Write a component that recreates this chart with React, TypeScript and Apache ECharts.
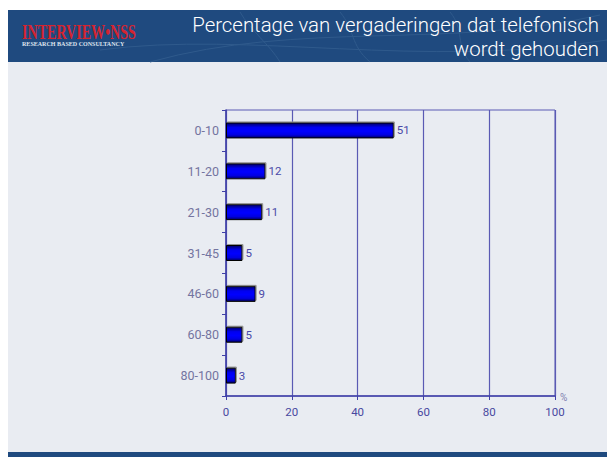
import React, { useEffect, useRef } from "react";
import * as echarts from "echarts";

const categories = ["0-10", "11-20", "21-30", "31-45", "46-60", "60-80", "80-100"];
const values = [51, 12, 11, 5, 9, 5, 3];
const titleLines = ["Percentage van vergaderingen dat telefonisch", "wordt gehouden"];
const xTicks = { min: 0, max: 100, interval: 20 };
const unitLabel = "%";

export default function App() {
  const ref = useRef<HTMLDivElement>(null);
  useEffect(() => {
    if (!ref.current) return;
    const chart = echarts.init(ref.current, null, { renderer: "svg" });
    const navy = "#1f4a7f";
    const lineCol = "#5a5ab4";
    const deco = { stroke: "#2f5a8c", lineWidth: 1, fill: null as any };
    chart.setOption({
      animation: false,
      backgroundColor: "#ffffff",
      graphic: [
        { type: "rect", z: -10, shape: { x: 8, y: 10, width: 599, height: 52 }, style: { fill: navy } },
        { type: "bezierCurve", z: -9, shape: { x1: 150, y1: 62, x2: 600, y2: 15, cpx1: 300, cpy1: 20, cpx2: 450, cpy2: 50 }, style: deco },
        { type: "bezierCurve", z: -9, shape: { x1: 100, y1: 50, x2: 607, y2: 40, cpx1: 250, cpy1: 30, cpx2: 420, cpy2: 70 }, style: deco },
        { type: "bezierCurve", z: -9, shape: { x1: 240, y1: 12, x2: 280, y2: 62, cpx1: 250, cpy1: 30, cpx2: 270, cpy2: 45 }, style: deco },
        { type: "bezierCurve", z: -9, shape: { x1: 340, y1: 12, x2: 370, y2: 62, cpx1: 355, cpy1: 30, cpx2: 350, cpy2: 45 }, style: deco },
        { type: "bezierCurve", z: -9, shape: { x1: 450, y1: 12, x2: 470, y2: 62, cpx1: 465, cpy1: 30, cpx2: 455, cpy2: 45 }, style: deco },
        { type: "rect", z: -10, shape: { x: 8, y: 62, width: 599, height: 390 }, style: { fill: "#e9ecf2" } },
        { type: "rect", z: -10, shape: { x: 8, y: 452, width: 599, height: 5 }, style: { fill: navy } },
        {
          type: "text",
          x: 22,
          y: 21,
          scaleX: 0.64,
          style: {
            text: "INTERVIEW•NSS",
            fill: "#d42430",
            font: "bold 22px 'Liberation Serif', 'DejaVu Serif', serif",
            textVerticalAlign: "top",
          },
        },
        {
          type: "text",
          x: 22,
          y: 41.5,
          scaleX: 1.1,
          style: {
            text: "RESEARCH BASED CONSULTANCY",
            fill: "#dfe4ee",
            font: "bold 5.5px 'Liberation Serif', serif",
            textVerticalAlign: "top",
          },
        },
        {
          type: "text",
          x: 599,
          y: 25,
          style: {
            text: titleLines[0],
            fill: "#ffffff",
            font: "300 20.4px Roboto, sans-serif",
            textAlign: "right",
            textVerticalAlign: "middle",
          },
        },
        {
          type: "text",
          x: 599,
          y: 49,
          style: {
            text: titleLines[1],
            fill: "#ffffff",
            font: "300 20.4px Roboto, sans-serif",
            textAlign: "right",
            textVerticalAlign: "middle",
          },
        },
        {
          type: "text",
          x: 560,
          y: 392,
          style: {
            text: unitLabel,
            fill: "#8080b0",
            font: "10px Roboto, sans-serif",
            textVerticalAlign: "top",
          },
        },
      ],
      grid: {
        left: 226,
        right: 52,
        top: 110,
        bottom: 61,
        show: true,
        borderColor: lineCol,
        borderWidth: 1,
        backgroundColor: "transparent",
      },
      xAxis: {
        type: "value",
        min: xTicks.min,
        max: xTicks.max,
        interval: xTicks.interval,
        axisLine: { show: true, lineStyle: { color: "#4040a8", width: 1.5 } },
        axisTick: { show: true, length: 4, lineStyle: { color: "#4040a8" } },
        axisLabel: { color: "#4848a0", fontSize: 11.5, fontFamily: "Roboto, sans-serif", margin: 10 },
        splitLine: { show: true, lineStyle: { color: lineCol, width: 1.2 } },
      },
      yAxis: {
        type: "category",
        data: categories,
        inverse: true,
        axisLine: { show: true, lineStyle: { color: "#4040a8", width: 1.5 } },
        axisTick: { show: true, length: 4, lineStyle: { color: "#4040a8" } },
        axisLabel: { color: "#7474a0", fontSize: 12.5, fontFamily: "Roboto, sans-serif", margin: 7 },
        splitLine: { show: false },
      },
      series: [
        {
          type: "bar",
          data: values,
          barWidth: 16,
          itemStyle: {
            color: new echarts.graphic.LinearGradient(0, 0, 0, 1, [
              { offset: 0, color: "#000060" },
              { offset: 0.3, color: "#0000f0" },
              { offset: 0.55, color: "#0000ff" },
              { offset: 0.8, color: "#0000e0" },
              { offset: 1, color: "#000060" },
            ]),
            borderColor: "#000000",
            borderWidth: 1,
            shadowColor: "#909090",
            shadowOffsetX: 1,
            shadowOffsetY: -1,
            shadowBlur: 0,
          },
          label: {
            show: true,
            position: "right",
            distance: 3,
            color: "#4a4aa8",
            fontSize: 11.5,
            fontFamily: "Roboto, sans-serif",
          },
        },
      ],
    });
    return () => chart.dispose();
  }, []);
  return <div ref={ref} style={{ position: "fixed", left: 0, top: 0, width: 607, height: 457 }} />;
}
